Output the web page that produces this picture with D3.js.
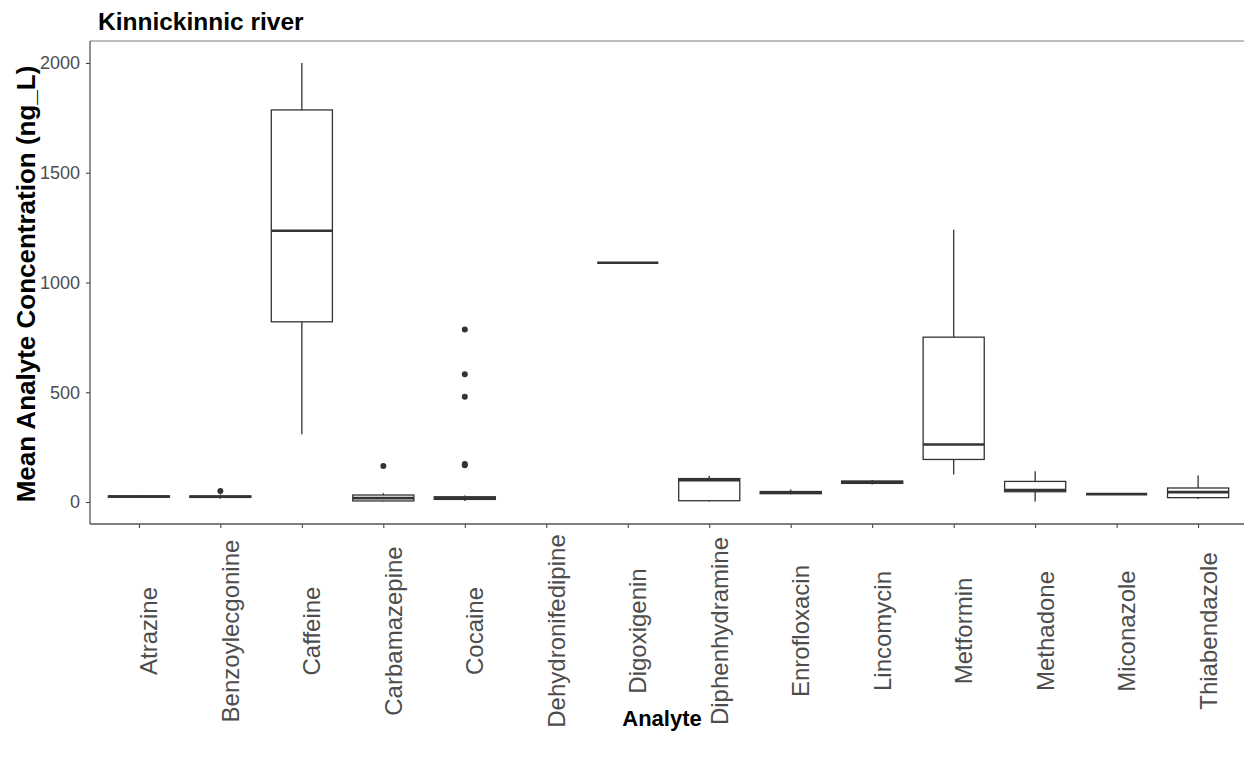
<!DOCTYPE html>
<html>
<head>
<meta charset="utf-8">
<script src="https://cdn.jsdelivr.net/npm/d3@7"></script>
<style>
  html, body { margin: 0; padding: 0; background: #fff; }
  svg { display: block; font-family: "Liberation Sans", Arial, sans-serif; }
</style>
</head>
<body>
<svg id="chart" width="1244" height="763"></svg>
<script>
// Analytes on the x axis
const analytes = ["Atrazine", "Benzoylecgonine", "Caffeine", "Carbamazepine", "Cocaine",
  "Dehydronifedipine", "Digoxigenin", "Diphenhydramine", "Enrofloxacin", "Lincomycin",
  "Metformin", "Methadone", "Miconazole", "Thiabendazole"];

// Five-number summaries (ng/L); null = no measurements
const whiskerLow = [18, 15, 309, 3, 5, null, 1090, 2, 35, 80, 126, 3, 36, 14];
const quartile1  = [22, 21, 821, 5, 12, null, 1090, 6, 38, 85, 194, 47, 36, 20];
const medians    = [25, 24, 1236, 18, 18, null, 1090, 100, 43, 90, 262, 55, 36, 45];
const quartile3  = [28, 28, 1786, 32, 24, null, 1090, 107, 48, 96, 751, 94, 36, 64];
const whiskerHigh= [31, 35, 2000, 40, 30, null, 1090, 120, 57, 100, 1240, 140, 36, 121];
const outliers   = [[], [50], [], [164], [168, 173, 480, 582, 786], [], [], [], [], [], [], [], [], []];

const yTicks = [0, 500, 1000, 1500, 2000];

const svg = d3.select("#chart");
const panel = { left: 90, top: 41, right: 1247, bottom: 524 };

const x = d3.scalePoint()
  .domain(analytes)
  .range([panel.left, panel.right])
  .padding(0.6);

const y = d3.scaleLinear()
  .domain([-100, 2100])
  .range([panel.bottom, panel.top]);

const boxW = x.step() * 0.75;
const ink = "#333333";

// Panel top border
svg.append("line")
  .attr("x1", panel.left).attr("x2", 1244)
  .attr("y1", panel.top).attr("y2", panel.top)
  .attr("stroke", "#a8a8a8").attr("stroke-width", 1.4);

// Y axis
const yAxis = svg.append("g")
  .attr("transform", `translate(${panel.left},0)`)
  .call(d3.axisLeft(y).tickValues(yTicks).tickSize(4).tickPadding(6).tickFormat(d3.format("d")));
yAxis.select(".domain").remove();
yAxis.selectAll(".tick line").attr("stroke", ink);
yAxis.selectAll(".tick text")
  .attr("fill", "#4d4d4d").attr("font-size", 18);

// X axis
const xAxis = svg.append("g")
  .attr("transform", `translate(0,${panel.bottom})`)
  .call(d3.axisBottom(x).tickSize(4).tickFormat(""));
xAxis.select(".domain").remove();
xAxis.selectAll(".tick line").attr("stroke", ink);

svg.append("g").selectAll("text")
  .data(analytes)
  .join("text")
  .attr("transform", d => `translate(${x(d) + 18.5},631) rotate(-90)`)
  .attr("text-anchor", "middle")
  .attr("fill", "#4d4d4d")
  .attr("font-size", 24)
  .text(d => d);

// Axis lines
svg.append("line")
  .attr("x1", panel.left).attr("x2", panel.left)
  .attr("y1", panel.top).attr("y2", panel.bottom)
  .attr("stroke", "#555").attr("stroke-width", 1.3);
svg.append("line")
  .attr("x1", panel.left).attr("x2", 1244)
  .attr("y1", panel.bottom).attr("y2", panel.bottom)
  .attr("stroke", "#555").attr("stroke-width", 1.3);

// Boxplots
const stats = analytes.map((name, i) => ({
  name,
  lo: whiskerLow[i], q1: quartile1[i], med: medians[i], q3: quartile3[i], hi: whiskerHigh[i],
  out: outliers[i]
})).filter(d => d.med !== null);

const boxes = svg.append("g").selectAll("g")
  .data(stats)
  .join("g")
  .attr("transform", d => `translate(${x(d.name)},0)`);

boxes.append("line")
  .attr("x1", 0).attr("x2", 0)
  .attr("y1", d => y(d.q3)).attr("y2", d => y(d.hi))
  .attr("stroke", ink).attr("stroke-width", 1.3);
boxes.append("line")
  .attr("x1", 0).attr("x2", 0)
  .attr("y1", d => y(d.q1)).attr("y2", d => y(d.lo))
  .attr("stroke", ink).attr("stroke-width", 1.3);

boxes.append("rect")
  .attr("x", -boxW / 2).attr("width", boxW)
  .attr("y", d => y(d.q3))
  .attr("height", d => y(d.q1) - y(d.q3))
  .attr("fill", "#fff").attr("stroke", ink).attr("stroke-width", 1.3);

boxes.append("line")
  .attr("x1", -boxW / 2).attr("x2", boxW / 2)
  .attr("y1", d => y(d.med)).attr("y2", d => y(d.med))
  .attr("stroke", ink).attr("stroke-width", 2.6);

boxes.selectAll("circle")
  .data(d => d.out)
  .join("circle")
  .attr("cx", 0).attr("cy", d => y(d))
  .attr("r", 3)
  .attr("fill", ink);

// Titles
svg.append("text")
  .attr("x", 98).attr("y", 30)
  .attr("font-size", 24.5).attr("font-weight", "bold").attr("fill", "#000")
  .text("Kinnickinnic river");

svg.append("text")
  .attr("transform", `translate(35,284) rotate(-90)`)
  .attr("text-anchor", "middle")
  .attr("font-size", 26).attr("font-weight", "bold").attr("fill", "#000")
  .text("Mean Analyte Concentration (ng_L)");

svg.append("text")
  .attr("x", 662).attr("y", 726)
  .attr("text-anchor", "middle")
  .attr("font-size", 22).attr("font-weight", "bold").attr("fill", "#000")
  .text("Analyte");
</script>
</body>
</html>
